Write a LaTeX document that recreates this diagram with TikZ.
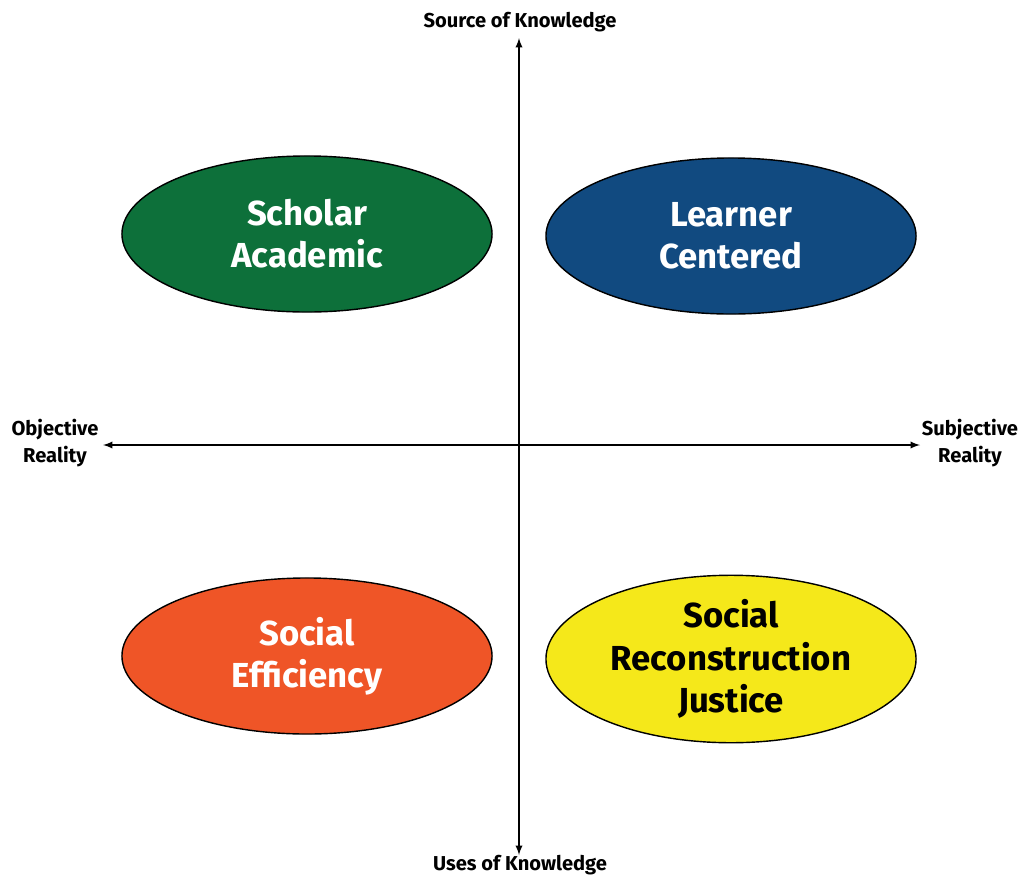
\documentclass[tikz,border=0pt]{standalone}
\usepackage{fontspec}
\setmainfont{Fira Sans}
\usetikzlibrary{shapes.geometric, arrows, positioning}

\definecolor{scholargreen}{HTML}{0D703A}
\definecolor{learnerblue}{HTML}{114A80}
\definecolor{efforange}{HTML}{EF5527}
\definecolor{justyellow}{HTML}{F5E81A}

\begin{document}
\begin{tikzpicture}[x=0.025cm,y=-0.025cm]

\tikzstyle{orient}=[ellipse,draw,line width=1pt,minimum width=9.25cm,minimum height=3.9cm,inner sep=0pt,align=center,font=\bfseries\fontsize{24.7}{30}\selectfont]
\tikzstyle{axis}=[line width=1.3pt, -latex]
\tikzstyle{pole}=[align=center,font=\bfseries\fontsize{14.3}{19}\selectfont,inner sep=0pt]

\useasboundingbox (0,0) rectangle (1021,876);

\coordinate (origin) at (519,445);
\coordinate (up) at (519,38);
\coordinate (down) at (519,855);
\coordinate (left) at (103,445);
\coordinate (right) at (920,445);

\node (source) [pole] at (520,22) {Source of Knowledge};
\node (uses) [pole] at (520,865) {Uses of Knowledge};
\node (objective) [pole] at (55,443) {Objective\\Reality};
\node (subjective) [pole] at (970,443) {Subjective\\Reality};

\node (scholar) [orient,fill=scholargreen,text=white] at (307,234) {Scholar\\Academic};
\node (learner) [orient,fill=learnerblue,text=white] at (731,236) {Learner\\Centered};
\node (efficiency) [orient,fill=efforange,text=white] at (307,656) {Social\\Efficiency};
\node (justice) [orient,fill=justyellow,text=black] at (731,659) {Social\\Reconstruction\\Justice};

\draw[axis] (origin) -- (up);
\draw[axis] (origin) -- (down);
\draw[axis] (origin) -- (left);
\draw[axis] (origin) -- (right);

\end{tikzpicture}
\end{document}
